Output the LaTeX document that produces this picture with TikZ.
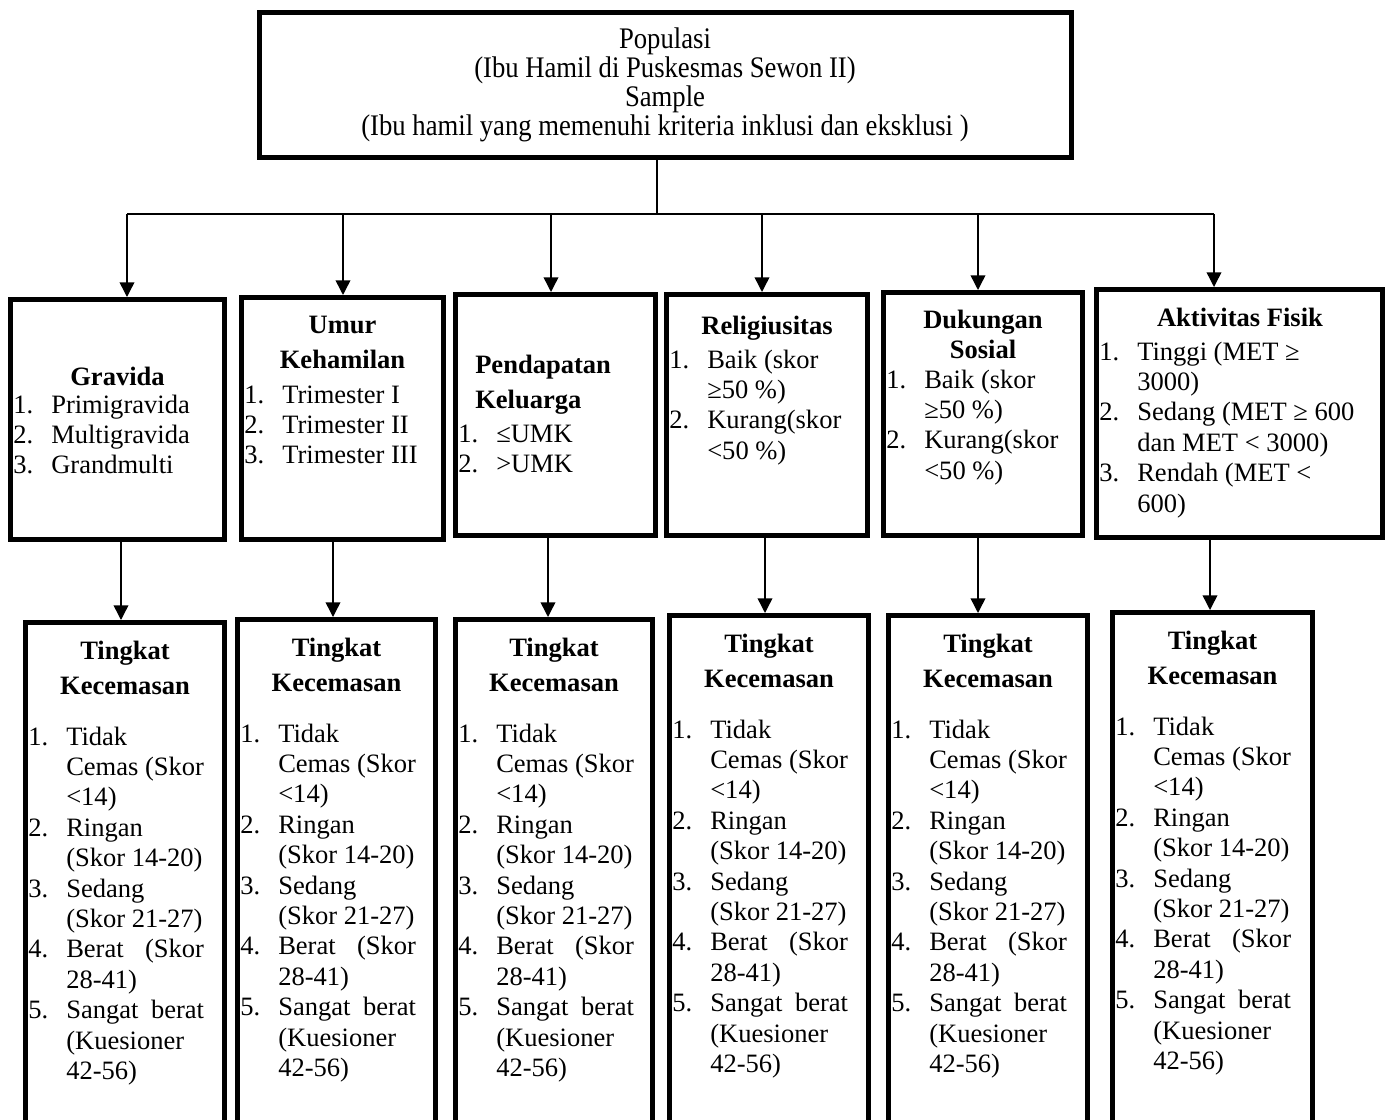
\documentclass[tikz,border=0pt]{standalone}
\usepackage{fontspec}
\setmainfont{Liberation Serif}
\usetikzlibrary{fit,arrows.meta}
\newlength\kcolw
\newcommand\knumw{28.5pt}
\newcommand\lstfont{\fontsize{19.9pt}{22.8pt}\selectfont}
\newcommand\ttlfont{\fontsize{19.9pt}{22.8pt}\selectfont\bfseries}
\newcommand\kitem[2]{\makebox[\knumw][l]{#1}#2}
\newcommand\kcont[1]{\hspace*{\knumw}#1}
\newcommand\kjust[2]{\makebox[\knumw][l]{#1}\settowidth\kcolw{Cemas (Skor}\makebox[\kcolw][s]{#2}}
\newcommand\anxlist{%
\kitem{1.}{Tidak}\\
\kcont{Cemas (Skor}\\
\kcont{<14)}\\
\kitem{2.}{Ringan}\\
\kcont{(Skor 14-20)}\\
\kitem{3.}{Sedang}\\
\kcont{(Skor 21-27)}\\
\kjust{4.}{Berat (Skor}\\
\kcont{28-41)}\\
\kjust{5.}{Sangat berat}\\
\kcont{(Kuesioner}\\
\kcont{42-56)}}
\newcommand\lst[1]{\parbox[t]{230pt}{\lstfont #1}}
\tikzset{
  box/.style={draw, line width=3.75pt, inner sep=0pt},
  conn/.style={line width=1.1pt},
  arr/.style={line width=1.1pt, -{Triangle[width=11pt,length=11pt]}},
  ttl/.style={anchor=base, inner sep=0pt, font=\ttlfont},
  lstn/.style={anchor=base west, inner sep=0pt},
}
\begin{document}
\begin{tikzpicture}[x=0.75pt,y=-0.75pt]
\useasboundingbox (0,0) rectangle (1393,1120);
\clip (0,0) rectangle (1393,1120);
\fill[white] (0,0) rectangle (1393,1120);

% top box
\node[box, fit={(259.5,12.5) (1071.5,157.5)}] (top) {};
\node[anchor=base, inner sep=0pt] (toptext) at (665,49) {\scalebox{1}[1.12]{\parbox[t]{800pt}{\centering\fontsize{20pt}{19.2pt}\selectfont Populasi\\(Ibu Hamil di Puskesmas Sewon II)\\Sample\\(Ibu hamil yang memenuhi kriteria inklusi dan eksklusi )}}};

% middle boxes
\node[box, fit={(10.5,299.5) (224.5,539.5)}] (m1) {};
\node[box, fit={(241.5,297.5) (443.5,539.5)}] (m2) {};
\node[box, fit={(455.5,294.5) (655.5,535.5)}] (m3) {};
\node[box, fit={(666.5,294.5) (867.5,535.5)}] (m4) {};
\node[box, fit={(883.5,292.5) (1082.5,535.5)}] (m5) {};
\node[box, fit={(1096.5,289.5) (1382.5,537.5)}] (m6) {};

% bottom boxes
\node[box, fit={(25.5,622.5) (224.5,1140)}] (b1) {};
\node[box, fit={(237.5,619.5) (435.5,1140)}] (b2) {};
\node[box, fit={(455.5,619.5) (652.5,1140)}] (b3) {};
\node[box, fit={(669.5,615.5) (868.5,1140)}] (b4) {};
\node[box, fit={(888.5,615.5) (1087.5,1140)}] (b5) {};
\node[box, fit={(1112.5,612.5) (1312.5,1140)}] (b6) {};

% middle titles
\node[ttl] (t1) at (117.5,385) {Gravida};
\node[ttl] (t2a) at (342.5,333) {Umur};
\node[ttl] (t2b) at (342.5,368) {Kehamilan};
\node[ttl, anchor=base west] (t3a) at (475,373) {Pendapatan};
\node[ttl, anchor=base west] (t3b) at (475,408) {Keluarga};
\node[ttl] (t4) at (767,334) {Religiusitas};
\node[ttl] (t5a) at (983,328) {Dukungan};
\node[ttl] (t5b) at (983,358) {Sosial};
\node[ttl] (t6) at (1240,326) {Aktivitas Fisik};

% middle lists
\node[lstn] (l1) at (13,413) {\lst{\kitem{1.}{Primigravida}\\\kitem{2.}{Multigravida}\\\kitem{3.}{Grandmulti}}};
\node[lstn] (l2) at (244,403) {\lst{\kitem{1.}{Trimester I}\\\kitem{2.}{Trimester II}\\\kitem{3.}{Trimester III}}};
\node[lstn] (l3) at (458,442) {\lst{\kitem{1.}{≤UMK}\\\kitem{2.}{>UMK}}};
\node[lstn] (l4) at (669,368) {\lst{\kitem{1.}{Baik (skor}\\\kcont{≥50 \%)}\\\kitem{2.}{Kurang(skor}\\\kcont{<50 \%)}}};
\node[lstn] (l5) at (886,388) {\lst{\kitem{1.}{Baik (skor}\\\kcont{≥50 \%)}\\\kitem{2.}{Kurang(skor}\\\kcont{<50 \%)}}};
\node[lstn] (l6) at (1099,360) {\lst{\kitem{1.}{Tinggi (MET ≥}\\\kcont{3000)}\\\kitem{2.}{Sedang (MET ≥ 600}\\\kcont{dan MET < 3000)}\\\kitem{3.}{Rendah (MET <}\\\kcont{600)}}};

% bottom titles
\node[ttl] (k1a) at (125,659) {Tingkat};
\node[ttl] (k1b) at (125,694) {Kecemasan};
\node[ttl] (k2a) at (336.5,656) {Tingkat};
\node[ttl] (k2b) at (336.5,691) {Kecemasan};
\node[ttl] (k3a) at (554,656) {Tingkat};
\node[ttl] (k3b) at (554,691) {Kecemasan};
\node[ttl] (k4a) at (769,652) {Tingkat};
\node[ttl] (k4b) at (769,687) {Kecemasan};
\node[ttl] (k5a) at (988,652) {Tingkat};
\node[ttl] (k5b) at (988,687) {Kecemasan};
\node[ttl] (k6a) at (1212.5,649) {Tingkat};
\node[ttl] (k6b) at (1212.5,684) {Kecemasan};

% bottom lists
\node[lstn] (n1) at (28,745) {\lst{\anxlist}};
\node[lstn] (n2) at (240,742) {\lst{\anxlist}};
\node[lstn] (n3) at (458,742) {\lst{\anxlist}};
\node[lstn] (n4) at (672,738) {\lst{\anxlist}};
\node[lstn] (n5) at (891,738) {\lst{\anxlist}};
\node[lstn] (n6) at (1115,735) {\lst{\anxlist}};

% connectors
\coordinate (hbar) at (657,214);
\coordinate (a1) at (127,0);
\coordinate (a2) at (343,0);
\coordinate (a3) at (551,0);
\coordinate (a4) at (762,0);
\coordinate (a5) at (978,0);
\coordinate (a6) at (1214,0);
\coordinate (c1) at (121,0);
\coordinate (c2) at (333,0);
\coordinate (c3) at (548,0);
\coordinate (c4) at (765,0);
\coordinate (c5) at (978,0);
\coordinate (c6) at (1210,0);

\draw[conn] (top.south -| hbar) -- (hbar);
\draw[conn] (hbar -| a1) -- (hbar -| a6);
\foreach \i in {1,...,6}{
  \draw[arr] (hbar -| a\i) -- (m\i.north -| a\i);
  \draw[arr] (m\i.south -| c\i) -- (b\i.north -| c\i);
}
\end{tikzpicture}
\end{document}
